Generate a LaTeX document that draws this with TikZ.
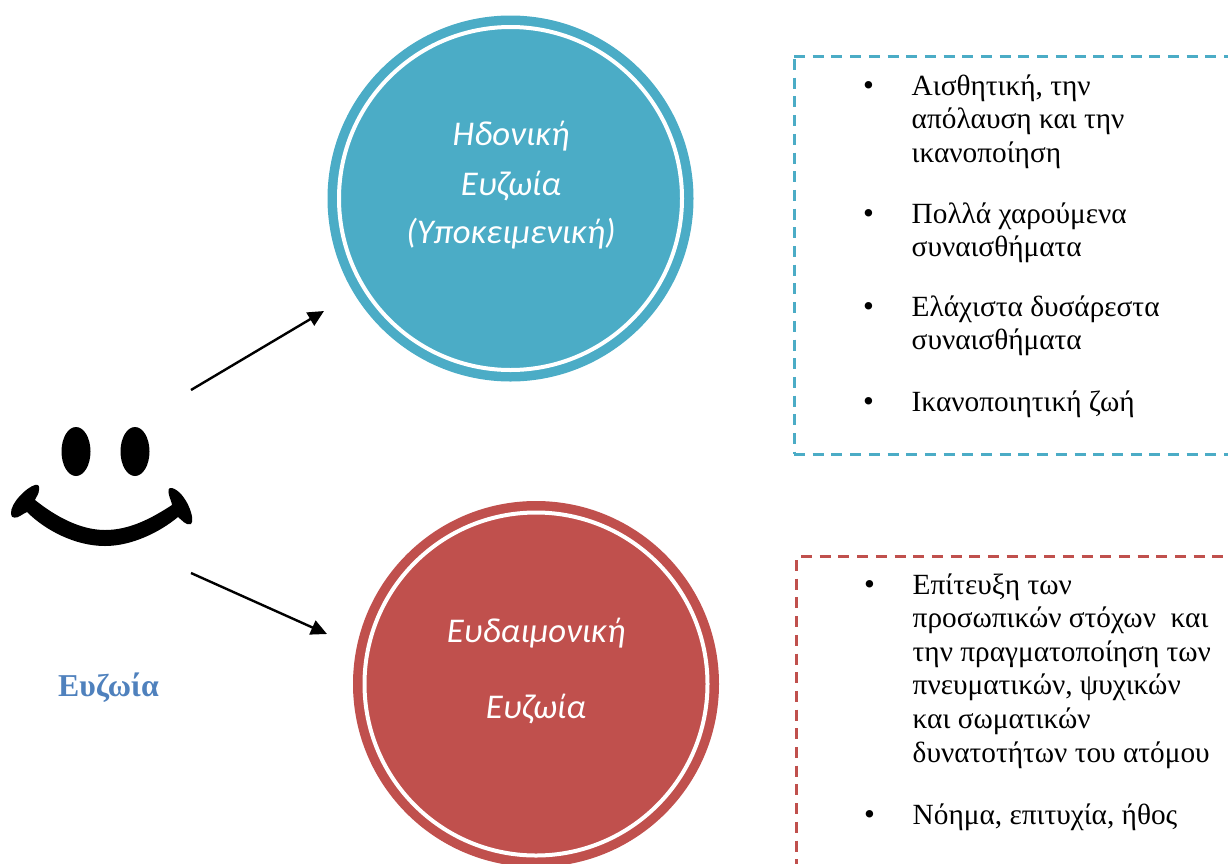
\documentclass[tikz,border=0pt]{standalone}
\usepackage{fontspec}
\setmainfont{Liberation Serif}
\newfontfamily\calib{Carlito}
\definecolor{tealc}{HTML}{4BACC6}
\definecolor{redc}{HTML}{C0504D}
\definecolor{bluec}{HTML}{4F81BD}
\usetikzlibrary{arrows.meta}
\newcommand{\itemlines}[1]{\vtop{\hsize=330pt\parindent=0pt\rightskip=0pt plus 1fil\relax #1}}
\tikzset{
  disc/.style={circle,fill=#1,minimum size=366pt,inner sep=0pt},
  ring/.style={circle,draw=white,line width=4pt,minimum size=343pt,inner sep=0pt},
  disctext/.style={text=white,font=\calib\itshape\fontsize{34.7}{34.7}\selectfont,anchor=base,inner sep=0pt},
  arrowline/.style={-{Triangle[length=16pt,width=15pt]},line width=2.4pt,black},
  dashbox/.style={draw=#1,line width=3pt,dash pattern=on 11pt off 7.7pt},
  bullet/.style={anchor=base,inner sep=0pt,font=\fontsize{31}{31}\selectfont},
  item/.style={anchor=base west,inner sep=0pt,font=\fontsize{29.3}{33.6}\selectfont},
}
\begin{document}
\begin{tikzpicture}[x=1pt,y=-1pt]
\useasboundingbox (0,0) rectangle (1228,863);
\clip (0,0) rectangle (1228,863);
% circles
\node[disc=tealc] (c1) at (510.5,198.5) {};
\node[ring] (r1) at (510.5,198.5) {};
\node[disc=redc] (c2) at (536,684) {};
\node[ring] (r2) at (536,684) {};
\node[disctext] (t1a) at (511,145) {Ηδονική};
\node[disctext] (t1b) at (511,195) {Ευζωία};
\node[disctext] (t1c) at (511,243) {(Υποκειμενική)};
\node[disctext] (t2a) at (536,642) {Ευδαιμονική};
\node[disctext] (t2b) at (536,718) {Ευζωία};
% smiley
\fill[black] (76,451.5) ellipse [x radius=14.5,y radius=24.5];
\fill[black] (135,451.5) ellipse [x radius=14.5,y radius=24.5];
\fill[black] (35,500)
  .. controls (36,497) and (39,494) .. (39,490)
  .. controls (40,486) and (38,484) .. (35,485)
  .. controls (27,487) and (10,503) .. (11,514)
  .. controls (11,519) and (17,518) .. (20,516)
  .. controls (23,514) and (25,513) .. (27,512)
  .. controls (45,530) and (75,546) .. (105,546)
  .. controls (132,546) and (160,532) .. (178,517)
  .. controls (182,520) and (186,526) .. (191,524)
  .. controls (196,520) and (186,492) .. (172,488)
  .. controls (168,487) and (168,491) .. (169,495)
  .. controls (170,499) and (172,503) .. (172,505)
  .. controls (152,518) and (130,530) .. (105,530)
  .. controls (80,530) and (55,516) .. (35,500) -- cycle;
\node[anchor=base,inner sep=0pt,text=bluec,font=\bfseries\fontsize{31.8}{31.8}\selectfont] (lab) at (108.5,696) {Ευζωία};
% arrows
\coordinate (a1s) at (191,390);
\coordinate (a1e) at (324,311);
\coordinate (a2s) at (191,573);
\coordinate (a2e) at (327,634);
\draw[arrowline] (a1s) -- (a1e);
\draw[arrowline] (a2s) -- (a2e);
% dashed boxes
\draw[dashbox=tealc] (794,56) -- (1240,56);
\draw[dashbox=tealc] (794,59) -- (794,454);
\draw[dashbox=tealc] (794,454) -- (1240,454);
\draw[dashbox=redc] (801,556) -- (1240,556);
\draw[dashbox=redc] (796,560) -- (796,880);
% blue list
\node[bullet] (b1) at (868.5,95) {•};
\node[item] (i1) at (911.5,95) {\itemlines{Αισθητική, την\\απόλαυση και την\\ικανοποίηση}};
\node[bullet] (b2) at (868.5,223) {•};
\node[item] (i2) at (911.5,223) {\itemlines{Πολλά χαρούμενα\\συναισθήματα}};
\node[bullet] (b3) at (868.5,316) {•};
\node[item] (i3) at (911.5,316) {\itemlines{Ελάχιστα δυσάρεστα\\συναισθήματα}};
\node[bullet] (b4) at (868.5,411) {•};
\node[item] (i4) at (911.5,411) {\itemlines{Ικανοποιητική ζωή}};
% red list
\node[bullet] (b5) at (869.5,594) {•};
\node[item] (i5) at (912.5,594) {\itemlines{Επίτευξη των\\προσωπικών στόχων\ \ και\\την πραγματοποίηση των\\πνευματικών, ψυχικών\\και σωματικών\\δυνατοτήτων του ατόμου}};
\node[bullet] (b6) at (869.5,824) {•};
\node[item] (i6) at (912.5,824) {\itemlines{Νόημα, επιτυχία, ήθος}};
\end{tikzpicture}
\end{document}
